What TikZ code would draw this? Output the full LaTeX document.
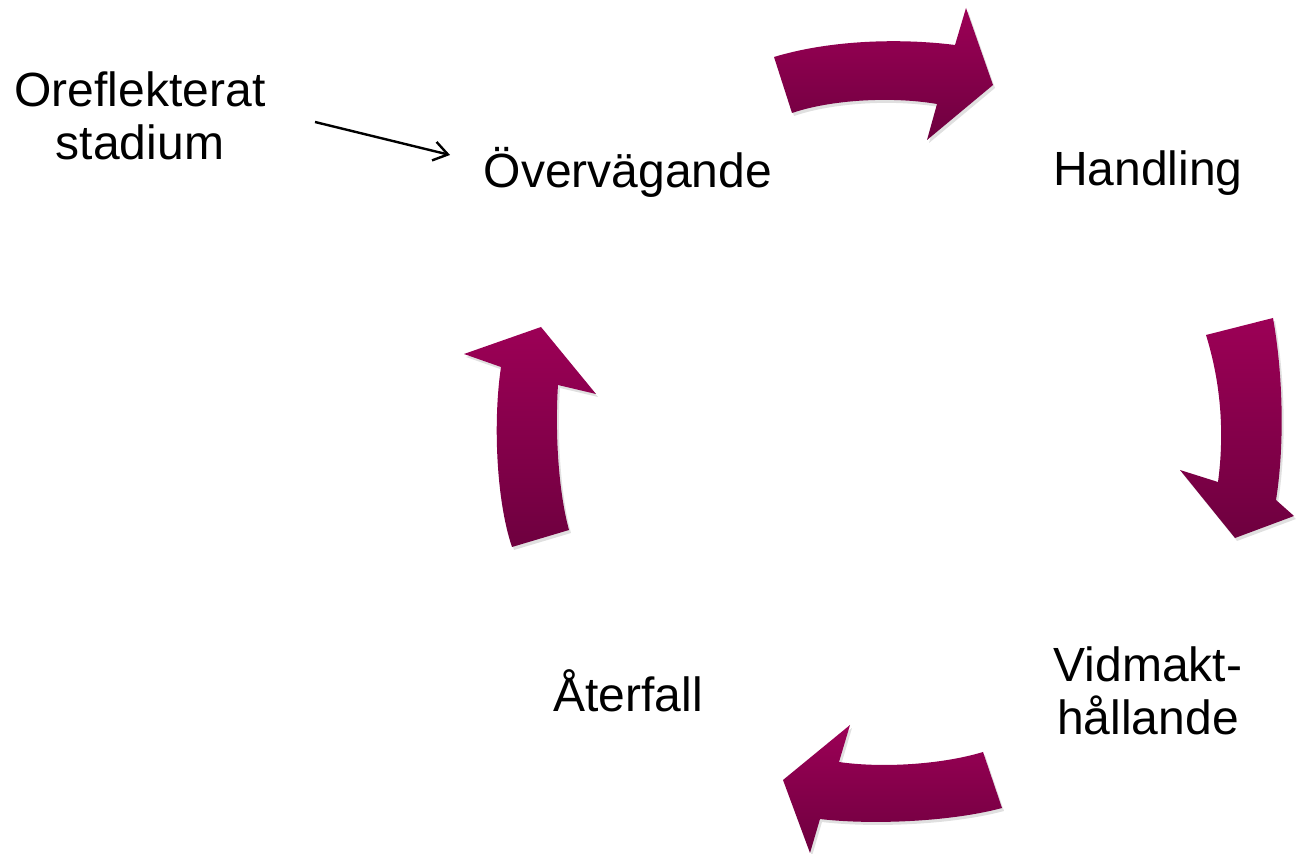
\documentclass[tikz,border=0pt]{standalone}
\usepackage{fontspec}
\setmainfont{Liberation Sans}
\usetikzlibrary{arrows.meta}
\definecolor{arrtop}{HTML}{9C0056}
\definecolor{arrbot}{HTML}{6E003F}
\tikzset{
  lbl/.style={font=\fontsize{24}{26.5}\selectfont, align=center, inner sep=0pt},
  bigarrow/.style={top color=arrtop, bottom color=arrbot, draw=none},
  shadowarrow/.style={fill=black, opacity=0.12, draw=none},
  thinarrow/.style={-{Straight Barb[length=7pt,width=9.5pt]}, line width=1.2pt}
}
\begin{document}
\begin{tikzpicture}[x=0.5pt,y=-0.5pt]
\useasboundingbox (0,0) rectangle (1296,854);

% text nodes
\node[lbl] (oref) at (140,116) {Oreflekterat\\stadium};
\node[lbl] (overv) at (628,172) {Övervägande};
\node[lbl] (handl) at (1148,173) {Handling};
\node[lbl] (vidm) at (1148,691) {Vidmakt-\\hållande};
\node[lbl] (aterf) at (628,691) {Återfall};

% thin connector
\coordinate (s1) at (315,122);
\coordinate (e1) at (450,155);
\draw[thinarrow] (s1) -- (e1);

% arrow 1 (top, pointing right)
\def\arrowA{(774,57) .. controls (830,40) and (900,38) .. (955,45) -- (966,8) -- (993,85) -- (927,140) -- (937,104) .. controls (890,96) and (830,100) .. (792,113) -- cycle}
% arrow 2 (right, pointing down)
\def\arrowB{(1206,335) -- (1273,318) .. controls (1284,380) and (1284,450) .. (1276,500) -- (1294,516) -- (1235,538) -- (1180,470) -- (1218,482) .. controls (1225,430) and (1220,380) .. (1206,335) -- cycle}
% arrow 3 (bottom, pointing left)
\def\arrowC{(983,752) -- (1002,808) .. controls (950,822) and (870,825) .. (820,819) -- (810,853) -- (783,780) -- (850,725) -- (839,762) .. controls (880,768) and (940,765) .. (983,752) -- cycle}
% arrow 4 (left, pointing up)
\def\arrowD{(512,547) -- (569,530) .. controls (558,490) and (555,430) .. (558,385) -- (596,394) -- (541,327) -- (464,354) -- (501,367) .. controls (493,420) and (496,500) .. (512,547) -- cycle}

\begin{scope}[shift={(2,3)}]
  \path[shadowarrow] \arrowA;
  \path[shadowarrow] \arrowB;
  \path[shadowarrow] \arrowC;
  \path[shadowarrow] \arrowD;
\end{scope}
\shade[bigarrow] \arrowA;
\shade[bigarrow] \arrowB;
\shade[bigarrow] \arrowC;
\shade[bigarrow] \arrowD;
\end{tikzpicture}
\end{document}
